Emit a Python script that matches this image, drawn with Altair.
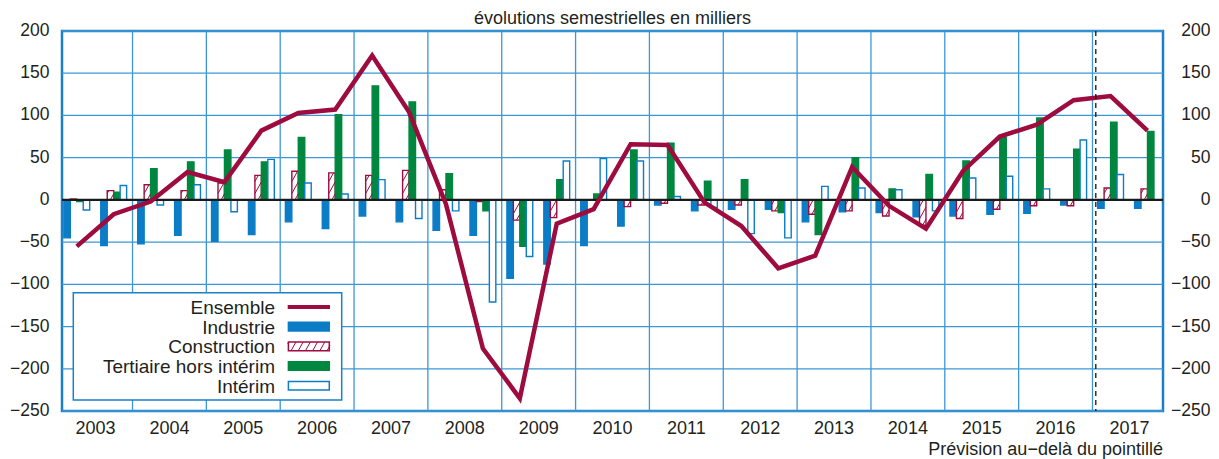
import altair as alt
import pandas as pd

# ---------------- data ----------------
years = list(range(2003, 2018))
semesters = [f"{y}-S{h}" for y in years for h in (1, 2)]

ensemble = [-55, -17, -2, 33, 21, 82, 103, 107, 171, 104, -5, -176, -235, -28, -11,
            66, 65, -3, -31, -81, -66, 39, -7, -34, 34, 75, 89, 118, 123, 82]
industrie = [-45, -54, -52, -42, -49, -41, -26, -34, -19, -26, -36, -42, -93, -76, -54,
             -31, -6, -13, -11, -11, -26, -14, -15, -20, -19, -17, -16, -6, -10, -10]
construction = [1, 11, 18, 11, 20, 29, 34, 32, 29, 35, 12, -2, -24, -21, 0,
                -8, -4, -6, -6, -13, -17, -13, -19, -30, -22, -11, -7, -7, 14, 13]
tertiaire = [-2, 9, 37, 45, 59, 45, 74, 101, 135, 116, 31, -13, -55, 24, 7,
             59, 67, 22, 24, -15, -41, 50, 13, 30, 46, 74, 97, 60, 92, 81]
interim = [-12, 17, -6, 18, -14, 48, 20, 7, 24, -22, -13, -121, -67, 46, 49,
           46, 4, -9, -40, -45, 16, 14, 12, -13, 26, 28, 13, 71, 30, None]

bar_series = ["Industrie", "Construction", "Tertiaire hors intérim", "Intérim"]
bar_values = [industrie, construction, tertiaire, interim]
legend_names = ["Ensemble"] + bar_series
y_ticks = list(range(-250, 201, 50))
forecast_start = 28.09   # position of the dotted line (semester units)

subtitle = "évolutions semestrielles en milliers"
footnote = "Prévision au\u2212delà du pointillé"

# ---------------- styling ----------------
FONT = "Liberation Sans"
TXT = "#231f20"
RED = "#9e0b3e"
BLUE = "#0b7dc6"
GREEN = "#00873f"
GRID = "#3d97d6"
BORDER = "#1a80c8"

W, H = 1101, 380
XDOM = [0.09, 29.91]
YDOM = [-250, 200]
KX = W / (XDOM[1] - XDOM[0])
KY = H / (YDOM[1] - YDOM[0])
BW = 0.175
CEN = 0.49
M = 1.8      # hatch slope
HD = 12.0    # hatch vertical spacing (px)

XS = alt.Scale(domain=XDOM, nice=False, zero=False)
YS = alt.Scale(domain=YDOM, nice=False, zero=False)

fill_scale = alt.Scale(domain=bar_series, range=[BLUE, "#ffffff", GREEN, "#ffffff"])
stroke_scale = alt.Scale(domain=bar_series, range=[BLUE, RED, GREEN, BLUE])

# ---------------- tables ----------------
rows = []
for k, (name, vals) in enumerate(zip(bar_series, bar_values)):
    for s, v in enumerate(vals):
        if v is None:
            continue
        rows.append({"s": s, "k": k, "serie": name, "v": v, "sem": semesters[s]})
bars_df = pd.DataFrame(rows)
cons_df = bars_df[bars_df["serie"] == "Construction"].copy()
line_df = pd.DataFrame({"s": list(range(len(ensemble))), "v": ensemble, "sem": semesters})
year_df = pd.DataFrame({"yr": [str(y) for y in years],
                        "xc": [2 * (y - years[0]) + 1 for y in years]})
bound_df = pd.DataFrame({"xb": [2 * (y - years[0]) for y in years[1:]]})
tick_df = pd.DataFrame({"t": y_ticks,
                        "lab": [str(t).replace("-", "\u2212") for t in y_ticks]})
one = pd.DataFrame({"a": [0]})

# ---------------- layers ----------------
hgrid = alt.Chart(tick_df).mark_rule(color=GRID, strokeWidth=1.3).encode(
    x=alt.value(0), x2=alt.value(W),
    y=alt.Y("t:Q", scale=YS, axis=None))

vgrid = alt.Chart(bound_df).mark_rule(color=GRID, strokeWidth=1.3).encode(
    x=alt.X("xb:Q", scale=XS, axis=None),
    y=alt.value(0), y2=alt.value(H))

bars = alt.Chart(bars_df).transform_calculate(
    x0=f"datum.s + {CEN} + (datum.k - 2) * {BW}",
    x1=f"datum.s + {CEN} + (datum.k - 1) * {BW}",
    z="0",
).mark_rect(strokeWidth=1.4).encode(
    x=alt.X("x0:Q", scale=XS, axis=None),
    x2="x1:Q",
    y=alt.Y("v:Q", scale=YS, axis=None),
    y2="z:Q",
    fill=alt.Fill("serie:N", scale=fill_scale, legend=None),
    stroke=alt.Stroke("serie:N", scale=stroke_scale, legend=None),
)

hatch = alt.Chart(cons_df).transform_calculate(
    tmin=f"min(0, datum.v) * {KY}",
    tmax=f"max(0, datum.v) * {KY}",
    x0=f"datum.s + {CEN} - {BW}",
    wpx=f"{BW * KX}",
    idx="sequence(0, 16)",
).transform_flatten(["idx"]).transform_calculate(
    c=f"datum.tmin - {M} * datum.wpx + (datum.idx + 0.5) * {HD}",
).transform_calculate(
    u1=f"max(0, (datum.tmin - datum.c) / {M})",
    u2=f"min(datum.wpx, (datum.tmax - datum.c) / {M})",
).transform_filter("datum.u2 - datum.u1 > 0.3").transform_calculate(
    xa=f"datum.x0 + datum.u1 / {KX}",
    xb=f"datum.x0 + datum.u2 / {KX}",
    ya=f"({M} * datum.u1 + datum.c) / {KY}",
    yb=f"({M} * datum.u2 + datum.c) / {KY}",
).mark_rule(color=RED, strokeWidth=1).encode(
    x=alt.X("xa:Q", scale=XS, axis=None), x2="xb:Q",
    y=alt.Y("ya:Q", scale=YS, axis=None), y2="yb:Q")

zero = alt.Chart(pd.DataFrame({"z": [0]})).mark_rule(color="#1a1a1a", strokeWidth=2.2).encode(
    x=alt.value(0), x2=alt.value(W),
    y=alt.Y("z:Q", scale=YS, axis=None))

line = alt.Chart(line_df).transform_calculate(
    xc=f"datum.s + {CEN}"
).mark_line(color=RED, strokeWidth=4.5, strokeJoin="miter").encode(
    x=alt.X("xc:Q", scale=XS, axis=None),
    y=alt.Y("v:Q", scale=YS, axis=None),
    order="s:Q")

dashed = alt.Chart(pd.DataFrame({"f": [forecast_start]})).mark_rule(
    color="#111111", strokeWidth=1.3, strokeDash=[5, 4]).encode(
    x=alt.X("f:Q", scale=XS, axis=None), y=alt.value(0), y2=alt.value(H))

left_labels = alt.Chart(tick_df).mark_text(
    align="right", baseline="middle", font=FONT, fontSize=17.5, color=TXT).encode(
    x=alt.value(-12.5),
    y=alt.Y("t:Q", scale=YS, axis=None),
    text="lab:N")

right_labels = alt.Chart(tick_df).mark_text(
    align="right", baseline="middle", font=FONT, fontSize=17.5, color=TXT).encode(
    x=alt.value(W + 47.5),
    y=alt.Y("t:Q", scale=YS, axis=None),
    text="lab:N")

year_labels = alt.Chart(year_df).mark_text(
    align="center", baseline="middle", font=FONT, fontSize=18, color=TXT).encode(
    x=alt.X("xc:Q", scale=XS, axis=None),
    y=alt.value(H + 18),
    text="yr:N")

foot = alt.Chart(one).mark_text(
    align="right", baseline="middle", font=FONT, fontSize=18, color=TXT,
    text=footnote).encode(x=alt.value(W), y=alt.value(H + 39))

sub = alt.Chart(one).mark_text(
    align="center", baseline="middle", font=FONT, fontSize=18, color=TXT,
    text=subtitle).encode(x=alt.value(W / 2), y=alt.value(-12))

# ---------------- legend (drawn inside the plot, bottom-left) ----------------
LX0, LX1, LY0, LY1 = 11.3, 279.7, 261.7, 369.0
row_y = [276 + i * 19.67 for i in range(len(legend_names))]
SX0, SX1 = 225.7, 268.0
legend_layers = [
    alt.Chart(one).mark_rect(fill="white", stroke=BORDER, strokeWidth=1.5).encode(
        x=alt.value(LX0), x2=alt.value(LX1), y=alt.value(LY0), y2=alt.value(LY1))
]
sym_fill = {"Industrie": BLUE, "Construction": "white",
            "Tertiaire hors intérim": GREEN, "Intérim": "white"}
sym_stroke = {"Industrie": BLUE, "Construction": RED,
              "Tertiaire hors intérim": GREEN, "Intérim": BLUE}
for name, yy in zip(legend_names, row_y):
    legend_layers.append(
        alt.Chart(one).mark_text(align="right", baseline="middle", font=FONT,
                                 fontSize=19, color=TXT, text=name).encode(
            x=alt.value(213), y=alt.value(yy + 1)))
    if name == "Ensemble":
        legend_layers.append(
            alt.Chart(one).mark_rule(color=RED, strokeWidth=4).encode(
                x=alt.value(SX0), x2=alt.value(SX1), y=alt.value(yy)))
    else:
        legend_layers.append(
            alt.Chart(one).mark_rect(fill=sym_fill[name], stroke=sym_stroke[name],
                                     strokeWidth=1.5).encode(
                x=alt.value(SX0 + 0.7), x2=alt.value(SX1 - 0.7),
                y=alt.value(yy - 4.3), y2=alt.value(yy + 4.3)))
    if name == "Construction":
        top, bot = yy - 4.3, yy + 4.3
        hh = bot - top
        sp = 7.2
        j = 0
        while True:
            xb0 = SX0 - hh / M + 1 + j * sp
            if xb0 > SX1:
                break
            xs, xe = xb0, xb0 + hh / M
            ys, ye = bot, top
            if xs < SX0:
                ys = bot - M * (SX0 - xs)
                xs = SX0
            if xe > SX1:
                ye = bot - M * (SX1 - xb0)
                xe = SX1
            if xe - xs > 0.3:
                legend_layers.append(
                    alt.Chart(one).mark_rule(color=RED, strokeWidth=1).encode(
                        x=alt.value(xs), x2=alt.value(xe),
                        y=alt.value(ys), y2=alt.value(ye)))
            j += 1

chart = alt.layer(
    hgrid, vgrid, bars, hatch, zero, line, dashed, left_labels, right_labels,
    year_labels, foot, sub, *legend_layers
).properties(
    width=W, height=H,
    padding={"left": 54, "top": 23, "right": 48, "bottom": 48},
    autosize=alt.AutoSizeParams(type="none"),
    background="white",
).configure_view(stroke=BORDER, strokeWidth=2.5)

chart.save("out.html", embed_options={"renderer": "svg", "actions": False})
